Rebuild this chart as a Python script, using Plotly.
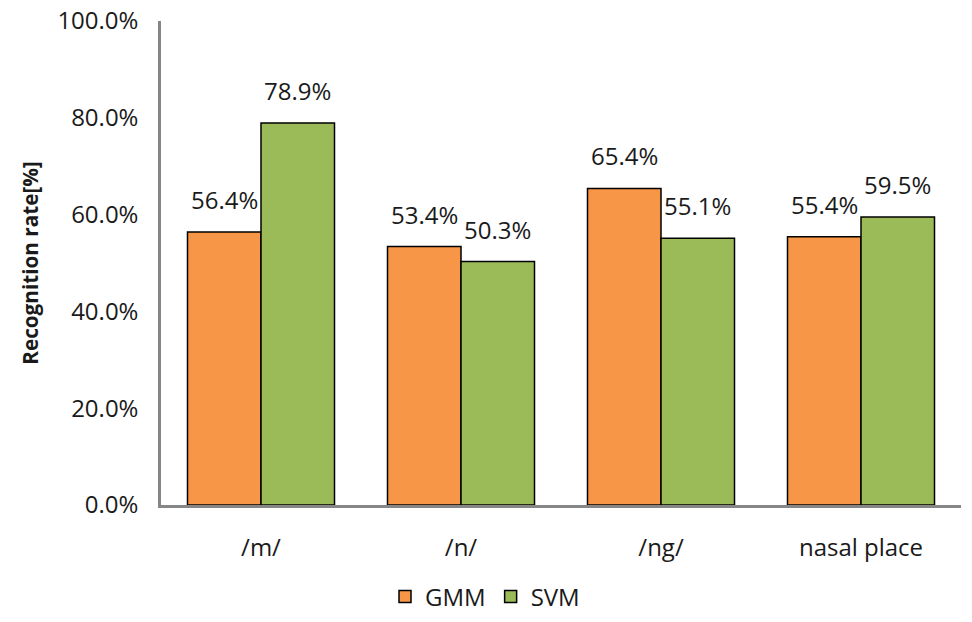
import plotly.graph_objects as go

categories = ["/m/", "/n/", "/ng/", "nasal place"]
gmm = [0.564, 0.534, 0.654, 0.554]
svm = [0.789, 0.503, 0.551, 0.595]
series_names = ["GMM", "SVM"]
colors = ["#F79646", "#9BBB59"]
yticks = [0, 0.2, 0.4, 0.6, 0.8, 1.0]

FONT = "Open Sans, Noto Sans, sans-serif"
fig = go.Figure()
for name, vals, col in zip(series_names, [gmm, svm], colors):
    fig.add_trace(go.Bar(
        x=categories, y=vals, name=name,
        marker=dict(color=col, line=dict(color="#000000", width=1.5)),
    ))

bargap = 0.265
plot_w = 800
bar_px = plot_w / len(categories) * (1 - bargap) / 2
for i, vals in enumerate([gmm, svm]):
    shift = (-0.5 if i == 0 else 0.5) * bar_px
    for c, v in zip(categories, vals):
        fig.add_annotation(x=c, y=v, text=f"{v*100:.1f}%", showarrow=False,
                           xshift=shift, yshift=14, yanchor="bottom",
                           font=dict(size=24, color="#1a1a1a", family=FONT))

# page body has an 8px default margin, so the figure is 8px smaller
fig.update_layout(
    width=964, height=614,
    margin=dict(l=153, r=11, t=13, b=117, autoexpand=False),
    plot_bgcolor="white", paper_bgcolor="white",
    barmode="group", bargap=bargap, bargroupgap=0,
    font=dict(family=FONT, size=24, color="#1a1a1a"),
    showlegend=True,
    legend=dict(orientation="h", x=0.405, xanchor="center", y=-0.19, yanchor="middle",
                font=dict(size=24), itemwidth=30),
)
fig.update_yaxes(range=[0, 1], tickvals=yticks, tickformat=".1%",
                 showgrid=False, showline=True, linecolor="#868686", linewidth=2.5,
                 ticks="", ticklabelstandoff=15, zeroline=False, automargin=False,
                 ticklabeloverflow="allow",
                 title=dict(text="<b>Recognition rate[%]</b>", font=dict(size=20.7), standoff=14))
fig.update_xaxes(showline=True, linecolor="#868686", linewidth=2.5, ticks="",
                 ticklabelstandoff=19, showgrid=False, automargin=False)

fig.write_html("out.html")
